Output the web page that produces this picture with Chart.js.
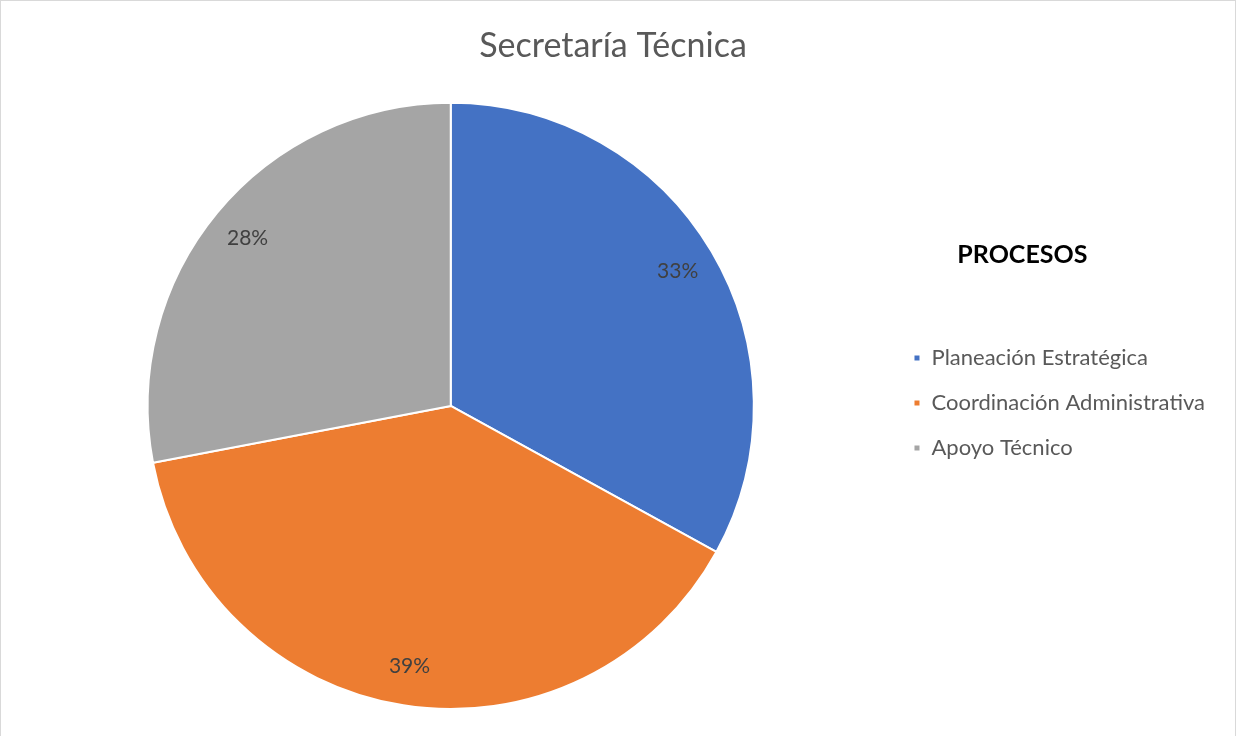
<!DOCTYPE html>
<html lang="es">
<head>
    <meta charset="UTF-8">
    <title>Secretaría Técnica</title>
    <script src="https://cdn.jsdelivr.net/npm/chart.js"></script>
    <style>
        body {
            margin: 0;
            padding: 0;
            background: #fff;
        }
        #wrap {
            position: relative;
            width: 1236px;
            height: 736px;
        }
        #frame {
            position: absolute;
            left: 0;
            top: 0;
            right: 0;
            bottom: -2px;
            border: 1px solid #d9d9d9;
            pointer-events: none;
        }
    </style>
</head>
<body>
    <div id="wrap">
        <canvas id="pieChart" width="1236" height="736"></canvas>
        <div id="frame"></div>
    </div>

    <script>
        const categories = ['Planeación Estratégica', 'Coordinación Administrativa', 'Apoyo Técnico'];
        const percentages = [33, 39, 28];
        const sliceColors = ['#4472C4', '#ED7D31', '#A5A5A5'];

        // percentage labels inside each slice
        const sliceLabels = {
            id: 'sliceLabels',
            afterDatasetsDraw(chart) {
                const ctx = chart.ctx;
                const meta = chart.getDatasetMeta(0);
                ctx.save();
                ctx.font = '21px Lato';
                ctx.fillStyle = '#404040';
                ctx.textAlign = 'center';
                ctx.textBaseline = 'middle';
                meta.data.forEach((arc, i) => {
                    const p = arc.getProps(['x', 'y', 'startAngle', 'endAngle', 'outerRadius'], true);
                    const mid = (p.startAngle + p.endAngle) / 2;
                    const r = p.outerRadius * 0.87;
                    ctx.fillText(percentages[i] + '%', p.x + Math.cos(mid) * r, p.y + Math.sin(mid) * r);
                });
                ctx.restore();
            }
        };

        new Chart(document.getElementById('pieChart'), {
            type: 'pie',
            data: {
                labels: categories,
                datasets: [{
                    data: percentages,
                    backgroundColor: sliceColors,
                    borderColor: '#ffffff',
                    borderWidth: 2
                }]
            },
            options: {
                responsive: false,
                animation: false,
                layout: {
                    padding: { left: 11, right: 21, top: 0, bottom: 26 }
                },
                plugins: {
                    title: {
                        display: true,
                        text: 'Secretaría Técnica',
                        color: '#595959',
                        font: { family: 'Lato', size: 34, weight: 'normal' },
                        padding: { top: 26, bottom: 35 }
                    },
                    legend: {
                        position: 'right',
                        align: 'start',
                        title: {
                            display: true,
                            // trailing spaces pull the centred title a bit to the left
                            text: 'PROCESOS          ',
                            color: '#000000',
                            font: { family: 'Lato', size: 25, weight: 'bold' },
                            padding: { top: 242, bottom: 52 }
                        },
                        labels: {
                            boxWidth: 7,
                            boxHeight: 7,
                            padding: 23,
                            color: '#595959',
                            font: { family: 'Lato', size: 22 }
                        }
                    },
                    tooltip: { enabled: false }
                }
            },
            plugins: [sliceLabels]
        });
    </script>
</body>
</html>
